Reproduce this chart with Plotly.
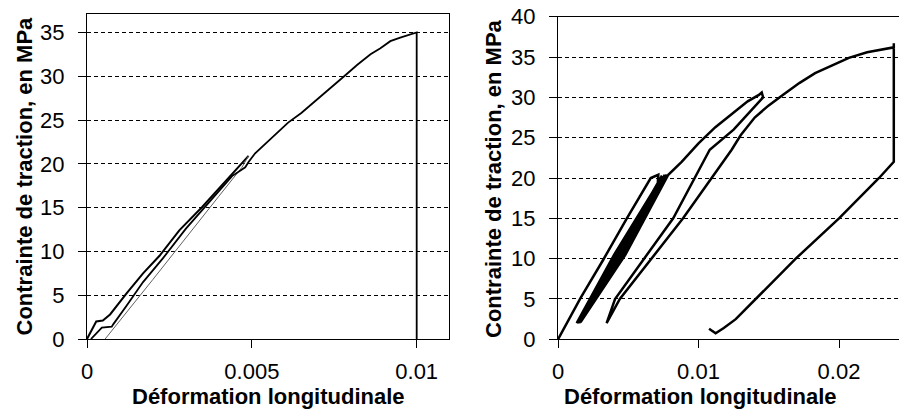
import plotly.graph_objects as go

# ---------------- Left chart data ----------------
left_load_x = [0, 0.00028, 0.00048, 0.0007, 0.0012, 0.0017, 0.0022, 0.0028, 0.0035, 0.0042, 0.0048, 0.0049]
left_load_y = [0, 2.0, 2.1, 2.8, 5.2, 7.5, 9.5, 12.4, 15.1, 18.0, 20.5, 20.9]

left_unload_x = [0.0049, 0.0047, 0.0040, 0.0030, 0.0020, 0.00055]
left_unload_y = [20.9, 19.6, 16.3, 11.5, 6.8, 0]

left_reload_x = [0.00012, 0.00045, 0.00075, 0.0008, 0.0012, 0.0017, 0.0023, 0.0030, 0.0037, 0.0044,
                 0.0048, 0.0049, 0.0051, 0.0056, 0.0061, 0.0065, 0.0071, 0.0078, 0.0082, 0.0086,
                 0.0089, 0.0092, 0.0095, 0.0098, 0.0100, 0.0100]
left_reload_y = [0, 1.3, 1.4, 1.7, 3.8, 6.5, 9.2, 12.6, 15.6, 18.6,
                 19.6, 20.2, 21.2, 23.0, 24.7, 25.8, 27.7, 30.0, 31.3, 32.5,
                 33.2, 34.0, 34.4, 34.8, 35.0, 0]

# ---------------- Right chart data ----------------
right_x = [0, 0.0016, 0.0032, 0.0049, 0.0066, 0.00714, 0.0071,
           0.0040, 0.00133,
           0.0043, 0.0074, 0.0042, 0.0014,
           0.0045, 0.0076, 0.0044, 0.00145,
           0.0046, 0.0077, 0.0045, 0.0015,
           0.0047, 0.0078, 0.0046, 0.0016,
           0.0048, 0.00785,
           0.0088, 0.0100, 0.0112, 0.0124, 0.0135, 0.0143, 0.0145, 0.0146,
           0.0125, 0.0108, 0.0082, 0.00406, 0.00346,
           0.0044, 0.0089, 0.01236, 0.0130, 0.0140, 0.0150, 0.0160, 0.0172, 0.0183, 0.0195,
           0.0207, 0.0220, 0.0231, 0.0239,
           0.0239, 0.0239,
           0.02285, 0.0200, 0.01692, 0.01407, 0.01265, 0.0118, 0.01122, 0.01075]
right_y = [0, 5.1, 9.8, 15.0, 20.0, 20.4, 19.3,
           10.5, 2.0,
           10.5, 20.3, 10.5, 2.0,
           10.5, 20.4, 10.5, 2.1,
           10.5, 20.4, 10.5, 2.0,
           10.5, 20.4, 10.5, 2.1,
           10.5, 20.4,
           22.0, 24.3, 26.3, 28.0, 29.5, 30.3, 30.6, 30.0,
           26.0, 23.5, 15.0, 5.0, 2.0,
           5.0, 15.0, 23.5, 25.3, 27.5, 29.0, 30.3, 31.8, 33.0, 34.0,
           34.9, 35.6, 36.0, 36.2,
           36.7, 22.0,
           20.0, 15.0, 10.0, 5.0, 2.5, 1.4, 0.74, 1.3]

x_title = "Déformation longitudinale"
y_title = "Contrainte de traction, en MPa"
left_xticks = [0, 0.005, 0.01]
left_xlabels = ["0", "0.005", "0.01"]
right_xticks = [0, 0.01, 0.02]
right_xlabels = ["0", "0.01", "0.02"]
left_yticks = [0, 5, 10, 15, 20, 25, 30, 35]
right_yticks = [0, 5, 10, 15, 20, 25, 30, 35, 40]

W, H = 899, 410
FONT = "Liberation Sans, Arial, sans-serif"

fig = go.Figure()
fig.add_trace(go.Scatter(x=left_load_x, y=left_load_y, mode="lines",
                         line=dict(color="black", width=2), xaxis="x", yaxis="y"))
fig.add_trace(go.Scatter(x=left_unload_x, y=left_unload_y, mode="lines",
                         line=dict(color="#606060", width=1), xaxis="x", yaxis="y"))
fig.add_trace(go.Scatter(x=left_reload_x, y=left_reload_y, mode="lines",
                         line=dict(color="black", width=1.8), xaxis="x", yaxis="y"))
fig.add_trace(go.Scatter(x=right_x, y=right_y, mode="lines",
                         line=dict(color="black", width=2.5), xaxis="x2", yaxis="y2"))


def px_x(p):
    return p / W


def px_y(p):
    return (H - p) / H


common_axis = dict(
    showline=True, linecolor="black", linewidth=1.2,
    ticks="outside", ticklen=8, tickwidth=1, tickcolor="black",
    tickfont=dict(family=FONT, size=22, color="black"),
    zeroline=False, automargin=False,
)

fig.update_layout(
    width=W, height=H,
    margin=dict(l=0, r=0, t=0, b=0),
    paper_bgcolor="white", plot_bgcolor="white",
    showlegend=False,
    xaxis=dict(domain=[px_x(87), px_x(449)], range=[0, 0.01098], anchor="y",
               tickvals=left_xticks, ticktext=left_xlabels, showgrid=False,
               mirror=True, ticklabelstandoff=4, **common_axis),
    yaxis=dict(domain=[px_y(339), px_y(14)], range=[0, 37.1], anchor="x",
               tickvals=left_yticks, showgrid=True, gridcolor="black", gridwidth=1,
               griddash="4px,3px", mirror=True, ticklabelstandoff=9, **common_axis),
    xaxis2=dict(domain=[px_x(558), 1.0], range=[0, 0.02427], anchor="y2",
                tickvals=right_xticks, ticktext=right_xlabels, showgrid=False,
                mirror=True, ticklabelstandoff=4, **common_axis),
    yaxis2=dict(domain=[px_y(339.3), px_y(16.7)], range=[0, 40], anchor="x2",
                tickvals=right_yticks, showgrid=True, gridcolor="black", gridwidth=1,
                griddash="4px,3px", mirror=False, ticklabelstandoff=9, **common_axis),
)

title_font = dict(family=FONT, size=22, color="black")
annotations = [
    dict(text="<b>%s</b>" % x_title, x=px_x(268), y=px_y(396), xref="paper", yref="paper",
         xanchor="center", yanchor="middle", showarrow=False, font=title_font),
    dict(text="<b>%s</b>" % x_title, x=px_x(700.5), y=px_y(396), xref="paper", yref="paper",
         xanchor="center", yanchor="middle", showarrow=False, font=title_font),
    dict(text="<b>%s</b>" % y_title, x=px_x(24), y=px_y(176.5), xref="paper", yref="paper",
         xanchor="center", yanchor="middle", showarrow=False, textangle=-90, font=title_font),
    dict(text="<b>%s</b>" % y_title, x=px_x(493), y=px_y(178), xref="paper", yref="paper",
         xanchor="center", yanchor="middle", showarrow=False, textangle=-90, font=title_font),
]
fig.update_layout(annotations=annotations)

fig.write_html("out.html", config={"displayModeBar": False},
               post_script="document.body.style.margin='0px';document.body.style.overflow='hidden';")
